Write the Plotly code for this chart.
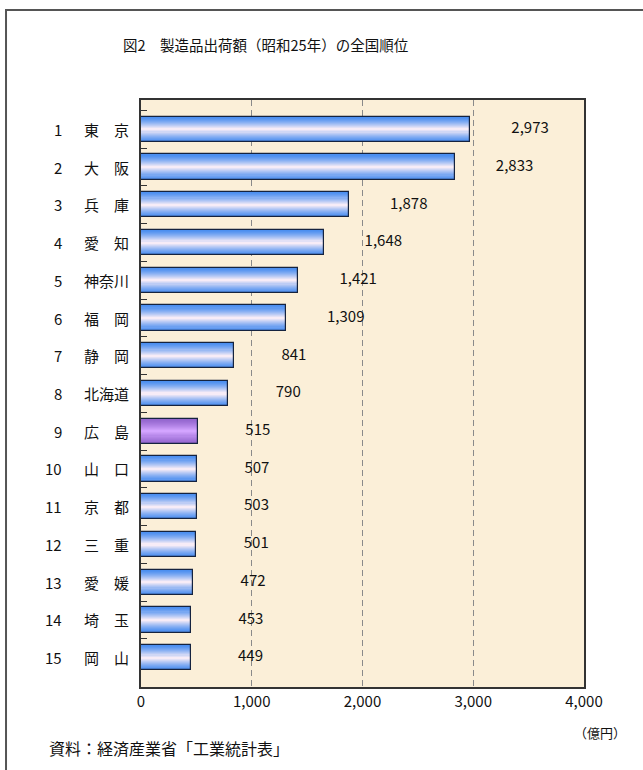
import plotly.graph_objects as go

# ---- data ----
ranks = list(range(1, 16))
prefectures = ["東　京", "大　阪", "兵　庫", "愛　知", "神奈川", "福　岡", "静　岡", "北海道",
               "広　島", "山　口", "京　都", "三　重", "愛　媛", "埼　玉", "岡　山"]
values = [2973, 2833, 1878, 1648, 1421, 1309, 841, 790, 515, 507, 503, 501, 472, 453, 449]
value_labels = [f"{v:,}" for v in values]
highlight = "広　島"
x_ticks = [0, 1000, 2000, 3000, 4000]
x_tick_labels = ["0", "1,000", "2,000", "3,000", "4,000"]

FONT = "Noto Sans CJK JP"

def hex_to_rgb(h):
    h = h.lstrip("#")
    return tuple(int(h[i:i + 2], 16) for i in (0, 2, 4))

def mix(a, b, t):
    a, b = hex_to_rgb(a), hex_to_rgb(b)
    return "rgb(%d,%d,%d)" % tuple(round(a[i] + (b[i] - a[i]) * t) for i in range(3))

BLUE_EDGE, BLUE_CENTER = "#4c8ff0", "#f7ecf7"
PURP_EDGE, PURP_CENTER = "#9466cf", "#d3a4ff"

fig = go.Figure()

BAR_W = 0.67
N = 12
for k in range(N):
    t = k / (N - 1)
    w = BAR_W * (1 - k / N)
    tt = t ** 1.3
    colors = [mix(PURP_EDGE, PURP_CENTER, tt) if p == highlight else mix(BLUE_EDGE, BLUE_CENTER, tt)
              for p in prefectures]
    fig.add_trace(go.Bar(
        x=values, y=prefectures, orientation="h", width=w,
        marker=dict(color=colors, line=dict(width=0)),
        hoverinfo="skip", showlegend=False,
    ))

# outline layer
fig.add_trace(go.Bar(
    x=values, y=prefectures, orientation="h", width=BAR_W,
    marker=dict(color="rgba(0,0,0,0)", line=dict(width=1.2, color="#15233f")),
    hoverinfo="skip", showlegend=False,
))

# value labels
LABEL_OFFSET = 540
fig.add_trace(go.Scatter(
    x=[v + LABEL_OFFSET for v in values], y=prefectures, mode="text",
    text=value_labels, textposition="middle center",
    textfont=dict(family=FONT, size=15, color="#111"),
    hoverinfo="skip", showlegend=False,
))

annotations = []
for r, p in zip(ranks, prefectures):
    annotations.append(dict(x=-0.174, y=p, xref="paper", yref="y", text=str(r),
                            xanchor="right", yanchor="middle", showarrow=False,
                            font=dict(family=FONT, size=15, color="#111")))
    annotations.append(dict(x=-0.133, y=p, xref="paper", yref="y", text=p,
                            xanchor="left", yanchor="middle", showarrow=False,
                            font=dict(family=FONT, size=15, color="#111")))

annotations.append(dict(x=0.28, y=1.094, xref="paper", yref="paper",
                        text="図2　製造品出荷額（昭和25年）の全国順位",
                        xanchor="center", yanchor="middle", showarrow=False,
                        font=dict(family=FONT, size=14.5, color="#111")))
annotations.append(dict(x=1.035, y=-0.078, xref="paper", yref="paper",
                        text="（億円）", xanchor="center", yanchor="middle", showarrow=False,
                        font=dict(family=FONT, size=13, color="#111")))
annotations.append(dict(x=-0.213, y=-0.104, xref="paper", yref="paper",
                        text="資料：経済産業省「工業統計表」", xanchor="left", yanchor="middle",
                        showarrow=False, font=dict(family=FONT, size=16, color="#111")))

fig.update_layout(
    width=643, height=770,
    margin=dict(l=141, r=59, t=100, b=83),
    paper_bgcolor="white",
    plot_bgcolor="#fbefd8",
    barmode="overlay",
    bargap=0,
    annotations=annotations,
    shapes=[dict(type="rect", xref="paper", yref="paper",
                 x0=-0.3047, x1=1.3, y0=-0.3, y1=1.1533,
                 line=dict(color="#555", width=2), fillcolor="rgba(0,0,0,0)", layer="below")],
    xaxis=dict(range=[0, 4000], tickvals=x_ticks, ticktext=x_tick_labels,
               showgrid=True, gridcolor="#8a8a8a", griddash="6px,4px", gridwidth=1,
               showline=True, linecolor="#333", linewidth=1.5, mirror=True,
               ticks="", zeroline=False,
               tickfont=dict(family=FONT, size=15, color="#111")),
    yaxis=dict(categoryorder="array", categoryarray=prefectures, autorange="reversed",
               showticklabels=False, showgrid=False,
               showline=True, linecolor="#333", linewidth=1.5, mirror=True,
               ticks="inside", tickson="boundaries", ticklen=6, tickcolor="#333"),
)

fig.write_html("out.html")
